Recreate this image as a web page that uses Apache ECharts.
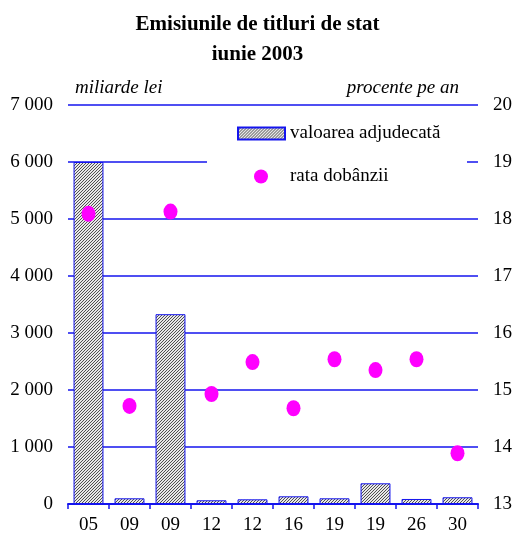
<!DOCTYPE html>
<html>
<head>
<meta charset="utf-8">
<script src="https://cdn.jsdelivr.net/npm/echarts@6/dist/echarts.min.js"></script>
<style>
  html, body { margin: 0; padding: 0; background: #fff; }
  #chart { width: 515px; height: 537px; }
</style>
</head>
<body>
<div id="chart"></div>
<script>
// date emisiuni, iunie 2003
var zile = ['05', '09', '09', '12', '12', '16', '19', '19', '26', '30'];
var valoare = [6000, 100, 3330, 65, 82, 135, 100, 363, 88, 118];   // miliarde lei
var rata = [18.09, 14.72, 18.13, 14.93, 15.49, 14.68, 15.54, 15.35, 15.54, 13.89]; // procente pe an

var albastru = '#1414ee';
var font = '"Liberation Serif", "Times New Roman", serif';

// hasura pentru bare
var c = document.createElement('canvas');
c.width = 3; c.height = 3;
var ctx = c.getContext('2d');
ctx.fillStyle = '#e8e8e8';
ctx.fillRect(0, 0, 3, 3);
ctx.fillStyle = '#505050';
for (var i = 0; i < 3; i++) {
  ctx.fillRect(i, 2 - i, 1, 1);
}

var option = {
  animation: false,
  backgroundColor: '#fff',
  title: {
    text: 'Emisiunile de titluri de stat\niunie 2003',
    left: 'center',
    top: 5,
    textStyle: { fontFamily: font, fontSize: 21, fontWeight: 'bold', color: '#000', lineHeight: 30 }
  },
  graphic: [{
    type: 'rect',
    z: 3,
    shape: { x: 207, y: 113, width: 260, height: 82 },
    style: { fill: '#fff' }
  }],
  legend: [{
    data: [{ name: 'valoarea adjudecată', icon: 'rect' }],
    left: 232,
    top: 119,
    itemWidth: 47,
    itemHeight: 12,
    textStyle: { fontFamily: font, fontSize: 19, color: '#000' }
  }, {
    data: [{ name: 'rata dobânzii', icon: 'circle' }],
    left: 249,
    top: 162,
    itemWidth: 14,
    itemHeight: 16,
    textStyle: { fontFamily: font, fontSize: 19, color: '#000', padding: [0, 0, 0, 17] }
  }],
  grid: { left: 68, right: 37, top: 105, bottom: 33 },
  xAxis: {
    type: 'category',
    data: zile,
    axisLine: { lineStyle: { color: albastru, width: 2 } },
    axisTick: { show: true, length: 5, lineStyle: { color: albastru, width: 1.5 } },
    axisLabel: { fontFamily: font, fontSize: 19, color: '#000', margin: 12 }
  },
  yAxis: [{
    type: 'value',
    min: 0,
    max: 7000,
    interval: 1000,
    name: 'miliarde lei',
    nameLocation: 'end',
    nameGap: 8,
    nameTextStyle: { fontFamily: font, fontSize: 19, fontStyle: 'italic', color: '#000', align: 'left', padding: [0, 0, 0, 7] },
    axisLine: { show: false },
    axisTick: { show: false },
    splitLine: { lineStyle: { color: albastru, width: 1.5 } },
    axisLabel: {
      fontFamily: font, fontSize: 19, color: '#000', margin: 15,
      formatter: function (v) { return String(v).replace(/\B(?=(\d{3})+(?!\d))/g, ' '); }
    }
  }, {
    type: 'value',
    min: 13,
    max: 20,
    interval: 1,
    name: 'procente pe an',
    nameLocation: 'end',
    nameGap: 8,
    nameTextStyle: { fontFamily: font, fontSize: 19, fontStyle: 'italic', color: '#000', align: 'right', padding: [0, 19, 0, 0] },
    axisLine: { show: false },
    axisTick: { show: false },
    splitLine: { show: false },
    axisLabel: { fontFamily: font, fontSize: 19, color: '#000', margin: 15 }
  }],
  series: [{
    name: 'valoarea adjudecată',
    type: 'bar',
    data: valoare,
    barCategoryGap: '27%',
    itemStyle: {
      color: { image: c, repeat: 'repeat' },
      borderColor: albastru,
      borderWidth: 1
    }
  }, {
    name: 'rata dobânzii',
    type: 'scatter',
    yAxisIndex: 1,
    data: rata,
    symbol: 'circle',
    symbolSize: [14, 16],
    itemStyle: { color: '#ff00ff', opacity: 1 },
    z: 5
  }]
};

var myChart = echarts.init(document.getElementById('chart'));
myChart.setOption(option);
</script>
</body>
</html>
